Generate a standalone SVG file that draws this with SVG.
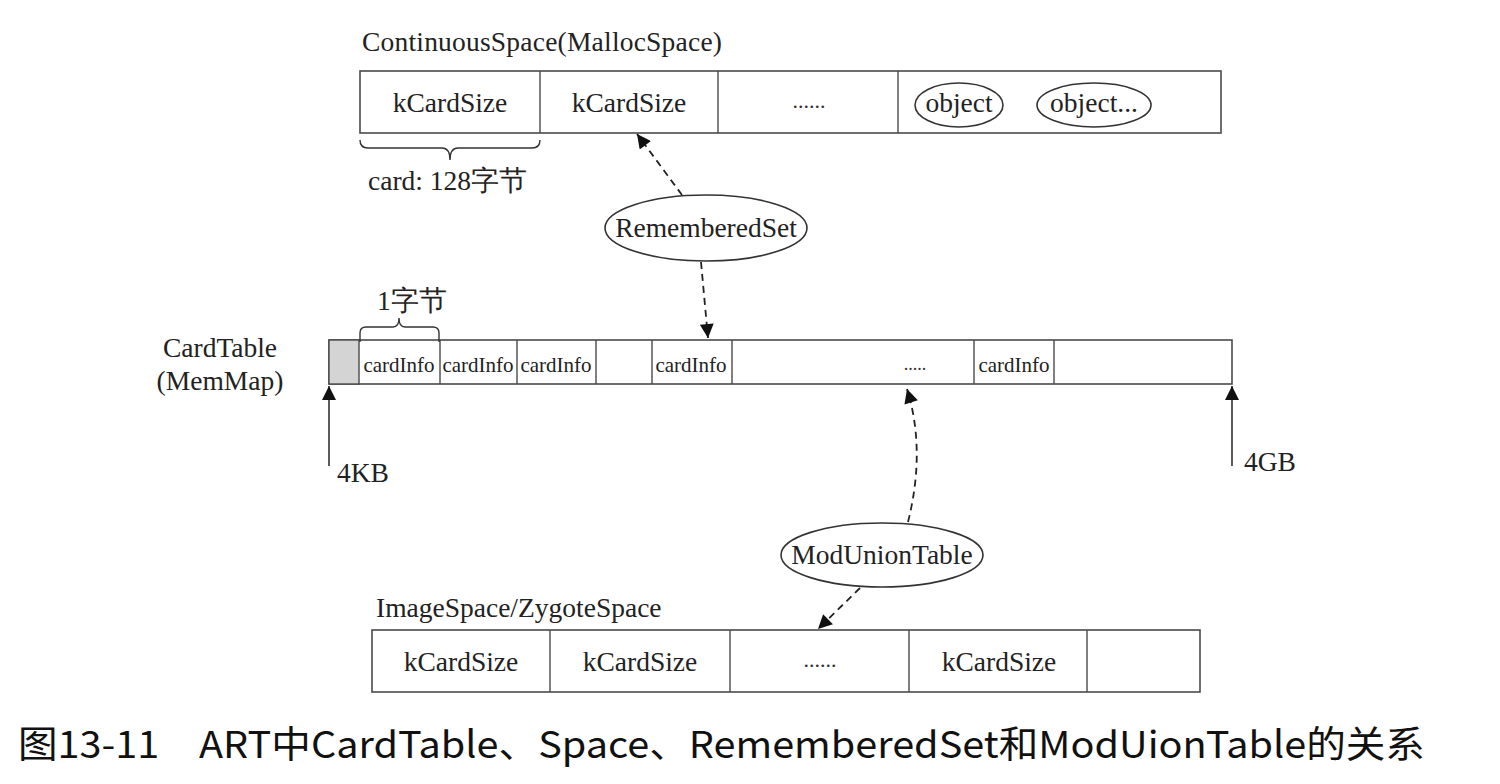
<svg xmlns="http://www.w3.org/2000/svg" width="1500" height="784" viewBox="0 0 1500 784">
<style>
.box{fill:#fff;stroke:#4a4a4a;stroke-width:1.6}
.div{stroke:#4a4a4a;stroke-width:1.4}
.t{font-family:"Liberation Serif","Times New Roman",serif;font-size:27.5px;fill:#222}
.s{font-family:"Liberation Serif","Times New Roman",serif;font-size:21px;fill:#222}
.ds{font-family:"Liberation Serif","Times New Roman",serif;font-size:22px;fill:#333}
.ds2{font-family:"Liberation Serif","Times New Roman",serif;font-size:18px;fill:#333}
.el{fill:#fff;stroke:#333;stroke-width:1.6}
.dash{fill:none;stroke:#222;stroke-width:1.8;stroke-dasharray:7 5}
.solid{fill:none;stroke:#333;stroke-width:1.6}
.br{fill:none;stroke:#333;stroke-width:1.4}
.cap{font-family:"Noto Sans CJK SC","Noto Sans",sans-serif;font-size:37px;fill:#111}
</style>
<defs>
<marker id="ah" viewBox="0 0 10 10" refX="10" refY="5" markerUnits="userSpaceOnUse" markerWidth="16" markerHeight="14" orient="auto">
<path d="M0,0 L10,5 L0,10 z" fill="#111"/>
</marker>
</defs>

<g id="continuous-space">
<text class="t" x="362" y="51" textLength="360">ContinuousSpace(MallocSpace)</text>
<rect class="box" x="360" y="71" width="861" height="62"/>
<line class="div" x1="540" y1="71" x2="540" y2="133"/>
<line class="div" x1="718" y1="71" x2="718" y2="133"/>
<line class="div" x1="898" y1="71" x2="898" y2="133"/>
<text class="t" x="450" y="112" text-anchor="middle">kCardSize</text>
<text class="t" x="629" y="112" text-anchor="middle">kCardSize</text>
<text class="ds" x="809" y="108" text-anchor="middle">......</text>
<ellipse class="el" cx="959" cy="105" rx="44" ry="22"/>
<text class="t" x="959" y="112" text-anchor="middle">object</text>
<ellipse class="el" cx="1094" cy="105" rx="57" ry="22"/>
<text class="t" x="1094" y="112" text-anchor="middle">object...</text>
<path class="br" d="M360,140 Q360,148 368,148 L442,148 Q450,148 450,160 Q450,148 458,148 L532,148 Q540,148 540,140"/>
<text class="t" x="368" y="190">card: 128字节</text>
</g>

<g id="remembered-set">
<ellipse class="el" cx="706" cy="228" rx="101" ry="33"/>
<text class="t" x="706" y="237" text-anchor="middle">RememberedSet</text>
</g>

<g id="card-table">
<text class="t" x="220" y="357" text-anchor="middle">CardTable</text>
<text class="t" x="220" y="390" text-anchor="middle">(MemMap)</text>
<rect class="box" x="329" y="340" width="903" height="44"/>
<rect x="329" y="340" width="30" height="44" fill="#d4d4d4" stroke="#4a4a4a" stroke-width="1.4"/>
<line class="div" x1="440" y1="340" x2="440" y2="384"/>
<line class="div" x1="517" y1="340" x2="517" y2="384"/>
<line class="div" x1="596" y1="340" x2="596" y2="384"/>
<line class="div" x1="652" y1="340" x2="652" y2="384"/>
<line class="div" x1="732" y1="340" x2="732" y2="384"/>
<line class="div" x1="974" y1="340" x2="974" y2="384"/>
<line class="div" x1="1054" y1="340" x2="1054" y2="384"/>
<text class="s" x="399" y="372" text-anchor="middle">cardInfo</text>
<text class="s" x="478" y="372" text-anchor="middle">cardInfo</text>
<text class="s" x="556" y="372" text-anchor="middle">cardInfo</text>
<text class="s" x="691" y="372" text-anchor="middle">cardInfo</text>
<text class="ds2" x="915" y="370" text-anchor="middle">.....</text>
<text class="s" x="1014" y="372" text-anchor="middle">cardInfo</text>
<path class="br" d="M360,342 L360,333 Q360,327 366,327 L393,327 Q399,327 399,318 Q399,327 405,327 L433,327 Q439,327 439,333 L439,342"/>
<text class="t" x="377" y="310">1字节</text>
<text class="t" x="337" y="482">4KB</text>
<text class="t" x="1244" y="471">4GB</text>
</g>

<g id="mod-union-table">
<ellipse class="el" cx="882" cy="555" rx="101" ry="32"/>
<text class="t" x="882" y="564" text-anchor="middle">ModUnionTable</text>
</g>

<g id="image-zygote-space">
<text class="t" x="376" y="617">ImageSpace/ZygoteSpace</text>
<rect class="box" x="372" y="630" width="828" height="62"/>
<line class="div" x1="550" y1="630" x2="550" y2="692"/>
<line class="div" x1="730" y1="630" x2="730" y2="692"/>
<line class="div" x1="909" y1="630" x2="909" y2="692"/>
<line class="div" x1="1087" y1="630" x2="1087" y2="692"/>
<text class="t" x="461" y="671" text-anchor="middle">kCardSize</text>
<text class="t" x="640" y="671" text-anchor="middle">kCardSize</text>
<text class="ds" x="820" y="667" text-anchor="middle">......</text>
<text class="t" x="999" y="671" text-anchor="middle">kCardSize</text>
</g>

<g id="connectors">
<path class="dash" d="M682,195 L637,134" marker-end="url(#ah)"/>
<path class="dash" d="M701,262 L708,338" marker-end="url(#ah)"/>
<path class="dash" d="M908,522 Q926,450 907,389" marker-end="url(#ah)"/>
<path class="dash" d="M860,588 L818,629" marker-end="url(#ah)"/>
<path class="solid" d="M329,466 L329,386" marker-end="url(#ah)"/>
<path class="solid" d="M1232,466 L1232,386" marker-end="url(#ah)"/>
</g>

<text class="cap" x="18" y="758" textLength="1407" lengthAdjust="spacingAndGlyphs">图13-11　ART中CardTable、Space、RememberedSet和ModUionTable的关系</text>
</svg>
